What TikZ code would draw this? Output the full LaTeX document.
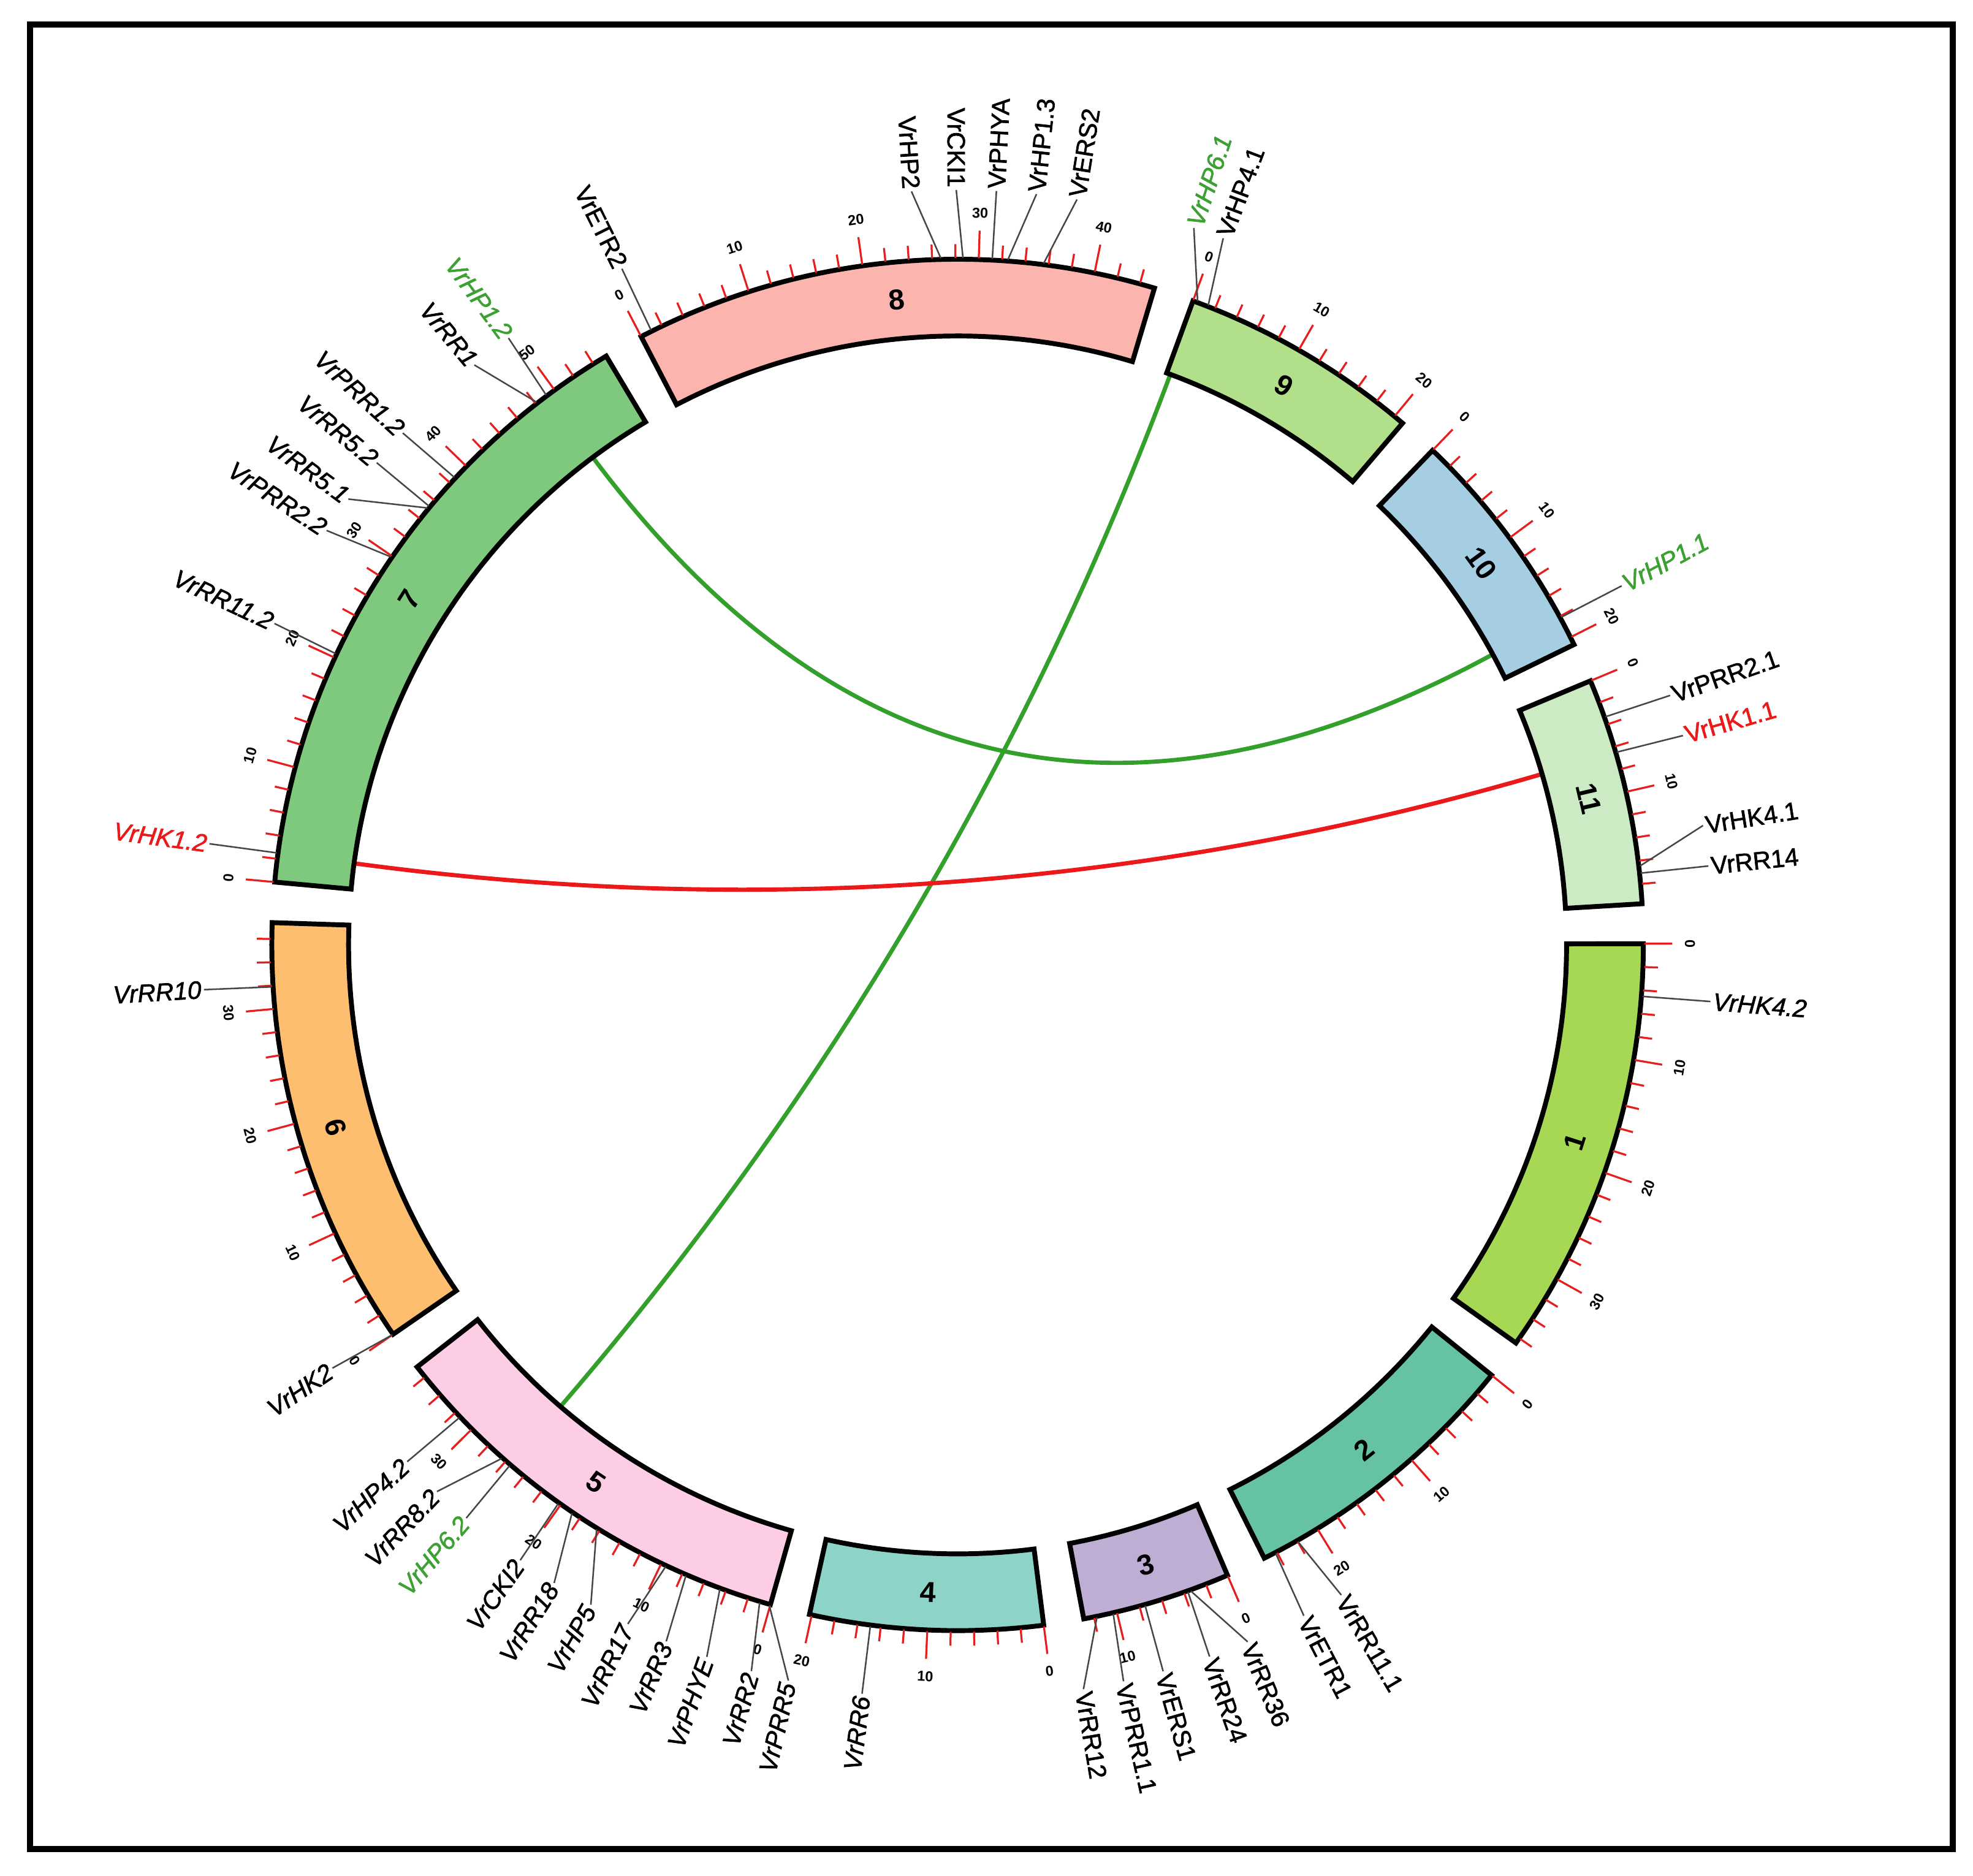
\documentclass[tikz,border=0pt]{standalone}
\usepackage{fontspec}
\setmainfont{Liberation Sans}
\newfontfamily\labfont{Liberation Sans}[FakeBold=1.6]
\usetikzlibrary{calc}
\definecolor{cA}{RGB}{166,216,84}
\definecolor{cB}{RGB}{102,194,165}
\definecolor{cC}{RGB}{190,174,212}
\definecolor{cD}{RGB}{141,211,199}
\definecolor{cE}{RGB}{252,205,229}
\definecolor{cF}{RGB}{253,190,112}
\definecolor{cG}{RGB}{127,201,127}
\definecolor{cH}{RGB}{251,180,174}
\definecolor{cI}{RGB}{178,223,138}
\definecolor{cJ}{RGB}{166,206,227}
\definecolor{cK}{RGB}{204,235,197}
\definecolor{linkgreen}{RGB}{51,160,44}
\definecolor{labgreen}{RGB}{60,160,50}
\definecolor{linkred}{RGB}{235,25,25}
\definecolor{tickred}{RGB}{230,30,30}
\definecolor{conn}{RGB}{70,70,70}
\tikzset{
  chrbox/.style={draw=black, line width=2.2pt, line join=miter},
  tickmark/.style={draw=tickred, line width=0.9pt},
  ticklab/.style={font=\fontsize{6.5}{7}\selectfont\bfseries, inner sep=0pt},
  chrlab/.style={font=\fontsize{13}{15}\selectfont\bfseries, inner sep=0pt},
  glabel/.style={font=\labfont\fontsize{11.3}{13}\selectfont, inner sep=1pt},
  gline/.style={draw=conn, line width=0.7pt},
  linkline/.style={line width=1.9pt},
}
% #1 number, #2 start angle, #3 length (Mb), #4 colour, #5 last even tick
\newcommand{\chromo}[5]{%
  \pgfmathsetmacro{\cend}{#2+#3*0.975}%
  \pgfmathsetmacro{\cmid}{#2+#3*0.4875}%
  \draw[chrbox, fill=#4] plot[domain=#2:\cend, samples=60] (\x:545) -- plot[domain=\cend:#2, samples=60] (\x:484) -- cycle;
  \pgfmathsetmacro{\crot}{mod(720-\cmid,180)-90}%
  \node[chrlab, rotate=\crot] (chr#1) at (\cmid:515) {#1};
  \foreach \p in {0,2,...,#5} {%
    \pgfmathsetmacro{\tkang}{#2+\p*0.975}%
    \pgfmathtruncatemacro{\tkmaj}{mod(\p,10)==0 ? 1 : 0}%
    \ifnum\tkmaj=1
      \draw[tickmark] (\tkang:546) -- (\tkang:568);
      \pgfmathsetmacro{\tkrot}{mod(720-\tkang,180)-90}%
      \node[ticklab, rotate=\tkrot] at (\tkang:582) {\p};
    \else
      \draw[tickmark] (\tkang:546) -- (\tkang:557);
    \fi
  }%
}
% #1 name, #2 gene angle, #3 label angle, #4 text, #5 colour, #6 font switch
\newcommand{\genelab}[6]{%
  \coordinate (#1g) at (#2:546);
  \pgfmathsetmacro{\gcos}{cos(#3)}%
  \ifdim\gcos pt>0pt
    \node[glabel, text=#5, anchor=west, rotate=-#3] (#1) at (#3:600) {#6#4};
    \draw[gline] (#1g) -- (#1.west);
  \else
    \node[glabel, text=#5, anchor=east, rotate=180-#3] (#1) at (#3:600) {#6#4};
    \draw[gline] (#1g) -- (#1.east);
  \fi
}
% #1 name, #2 angle A, #3 angle B, #4 colour
\newcommand{\glink}[4]{%
  \coordinate (#1a) at (#2:484);
  \coordinate (#1b) at (#3:484);
  \coordinate (#1ca) at (#2:161.3);
  \coordinate (#1cb) at (#3:161.3);
  \draw[linkline, #4] (#1a) .. controls (#1ca) and (#1cb) .. (#1b);
}
\begin{document}
\begin{tikzpicture}[x=0.02cm, y=-0.02cm]
\useasboundingbox (0,0) rectangle (1568,1491);
\fill[white] (0,0) rectangle (1568,1491);
\draw[line width=2.8pt] (24,19.5) rectangle (1552,1469.5);
\begin{scope}[shift={(761,751)}]
  % links
  \glink{lka}{233.2}{331.5}{linkgreen}
  \glink{lkb}{290.45}{130.7}{linkgreen}
  \glink{lkc}{343.7}{187.7}{linkred}
  % chromosomes
  \chromo{1}{-0.1}{36.5}{cA}{36}
  \chromo{2}{38.86}{25.2}{cB}{24}
  \chromo{3}{66.82}{12.9}{cC}{12}
  \chromo{4}{82.78}{20.2}{cD}{20}
  \chromo{5}{105.84}{37.1}{cE}{36}
  \chromo{6}{145.4}{37.4}{cF}{36}
  \chromo{7}{185.26}{55.3}{cG}{54}
  \chromo{8}{242.52}{45.3}{cH}{44}
  \chromo{9}{290.08}{20.9}{cI}{20}
  \chromo{10}{313.84}{20.7}{cJ}{20}
  \chromo{11}{337.35}{19.7}{cK}{18}
  % chromosome 1
  \genelab{hkb}{4.3}{4.3}{VrHK4.2}{black}{\itshape}
  % chromosome 11
  \genelab{prrba}{340.6}{340.7}{VrPRR2.1}{black}{}
  \genelab{hkaa}{343.7}{343.9}{VrHK1.1}{linkred}{}
  \genelab{hkda}{353.4}{350.9}{VrHK4.1}{black}{}
  \genelab{rrn}{354.0}{354.0}{VrRR14}{black}{}
  % chromosome 10
  \genelab{hpaa}{331.5}{331.6}{VrHP1.1}{labgreen}{\itshape}
  % chromosome 9
  \genelab{hpfa}{290.45}{288.24}{VrHP6.1}{labgreen}{\itshape}
  \genelab{hpda}{291.4}{290.6}{VrHP4.1}{black}{}
  % chromosome 8
  \genelab{etrb}{243.5}{243.6}{VrETR2}{black}{}
  \genelab{hpb}{268.6}{266.5}{VrHP2}{black}{}
  \genelab{ckia}{270.45}{269.9}{VrCKI1}{black}{}
  \genelab{phya}{272.9}{272.95}{VrPHYA}{black}{}
  \genelab{hpac}{274.2}{276.0}{VrHP1.3}{black}{}
  \genelab{ersb}{277.2}{279.1}{VrERS2}{black}{}
  % chromosome 7
  \genelab{hkab}{187.7}{187.7}{VrHK1.2}{linkred}{\itshape}
  \genelab{rrkb}{205.1}{205.2}{VrRR11.2}{black}{\itshape}
  \genelab{prrbb}{214.4}{213.3}{VrPRR2.2}{black}{\itshape}
  \genelab{rrea}{219.5}{216.2}{VrRR5.1}{black}{\itshape}
  \genelab{rreb}{219.7}{219.7}{VrRR5.2}{black}{\itshape}
  \genelab{prrab}{222.9}{222.7}{VrPRR1.2}{black}{\itshape}
  \genelab{rra}{232.2}{230.2}{VrRR1}{black}{\itshape}
  \genelab{hpab}{233.2}{233.5}{VrHP1.2}{labgreen}{\itshape}
  % chromosome 6
  \genelab{rrj}{176.5}{176.6}{VrRR10}{black}{\itshape}
  \genelab{hkc}{145.4}{145.9}{VrHK2}{black}{\itshape}
  % chromosome 5
  \genelab{hpdb}{136.5}{136.8}{VrHP4.2}{black}{\itshape}
  \genelab{rrhb}{131.6}{133.6}{VrRR8.2}{black}{\itshape}
  \genelab{hpfb}{130.7}{130.6}{VrHP6.2}{labgreen}{\itshape}
  \genelab{ckib}{125.55}{125.4}{VrCKI2}{black}{\itshape}
  \genelab{rrr}{124.15}{122.3}{VrRR18}{black}{\itshape}
  \genelab{hpe}{121.7}{119.06}{VrHP5}{black}{\itshape}
  \genelab{rrq}{115.15}{115.9}{VrRR17}{black}{\itshape}
  \genelab{rrc}{113.3}{112.7}{VrRR3}{black}{\itshape}
  \genelab{phye}{110.25}{109.4}{VrPHYE}{black}{\itshape}
  \genelab{rrb}{106.75}{105.85}{VrRR2}{black}{\itshape}
  \genelab{prre}{105.9}{102.95}{VrPRR5}{black}{\itshape}
  % chromosome 4
  \genelab{rrf}{97.3}{97.27}{VrRR6}{black}{\itshape}
  % chromosome 3
  \genelab{rrl}{78.3}{80.4}{VrRR12}{black}{}
  \genelab{prraa}{76.9}{77.3}{VrPRR1.1}{black}{}
  \genelab{ersa}{74.15}{74.2}{VrERS1}{black}{}
  \genelab{rrx}{70.4}{70.5}{VrRR24}{black}{}
  \genelab{rrz}{70.15}{67.4}{VrRR36}{black}{}
  % chromosome 2
  \genelab{etra}{62.4}{62.7}{VrETR1}{black}{}
  \genelab{rrka}{60.3}{59.45}{VrRR11.1}{black}{}
\end{scope}
\end{tikzpicture}
\end{document}
